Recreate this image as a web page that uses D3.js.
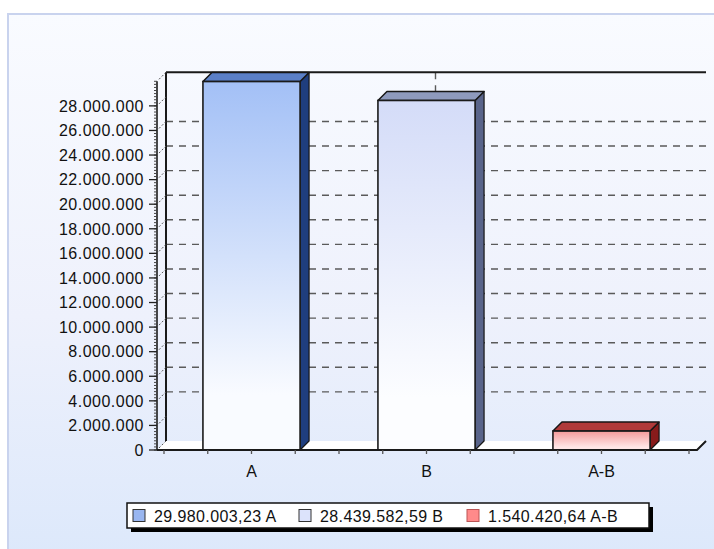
<!DOCTYPE html>
<html>
<head>
<meta charset="utf-8">
<script src="https://cdn.jsdelivr.net/npm/d3@7"></script>
<style>
  html, body { margin: 0; padding: 0; background: #ffffff; }
  svg { display: block; }
  text { font-family: "Liberation Sans", Arial, sans-serif; fill: #111; }
</style>
</head>
<body>
<div id="chart"></div>
<script>
// Categories, their values and the legend captions
const categories = ["A", "B", "A-B"];
const values = [29980003.23, 28439582.59, 1540420.64];
const legendLabels = ["29.980.003,23 A", "28.439.582,59 B", "1.540.420,64 A-B"];

// Value axis ticks (labelled) and the subset that gets a dashed gridline
const yTicks = [0, 2e6, 4e6, 6e6, 8e6, 10e6, 12e6, 14e6, 16e6, 18e6, 20e6, 22e6, 24e6, 26e6, 28e6];
const gridValues = [4e6, 6e6, 8e6, 10e6, 12e6, 14e6, 16e6, 18e6, 20e6, 22e6, 24e6, 26e6];
const yMax = 30e6;

// Face colours per bar: front gradient top, front gradient bottom, top face, side face, legend swatch
const frontTop = ["#a3c0f6", "#d4dcf8", "#f49a9a"];
const frontBottom = ["#f9fbff", "#fcfdff", "#ffe6e6"];
const topColor = ["#5a7fc7", "#8e9abd", "#b03a3a"];
const sideColor = ["#1f3e7e", "#59648a", "#881b1b"];
const swatchColor = ["#99b6f0", "#dce3fb", "#ff8a8a"];

const W = 714, H = 549;
const depth = 9;            // 3D offset of the back wall (right and up)
const baseY = 450;          // front baseline
const axisX = 157;          // front value axis

const svg = d3.select("#chart").append("svg")
  .attr("width", W).attr("height", H);

const defs = svg.append("defs");
const bg = defs.append("linearGradient").attr("id", "bg")
  .attr("x1", 0).attr("y1", 0).attr("x2", 0).attr("y2", 1);
bg.append("stop").attr("offset", "0%").attr("stop-color", "#f9fbff");
bg.append("stop").attr("offset", "55%").attr("stop-color", "#eef1fc");
bg.append("stop").attr("offset", "100%").attr("stop-color", "#dce8fb");

categories.forEach((c, i) => {
  const g = defs.append("linearGradient").attr("id", "front" + i)
    .attr("x1", 0).attr("y1", 0).attr("x2", 0).attr("y2", 1);
  g.append("stop").attr("offset", "0%").attr("stop-color", frontTop[i]);
  g.append("stop").attr("offset", "85%").attr("stop-color", frontBottom[i]);
  g.append("stop").attr("offset", "100%").attr("stop-color", frontBottom[i]);
});

// Page background and frame
svg.append("rect").attr("width", W).attr("height", H).attr("fill", "#ffffff");
svg.append("rect")
  .attr("x", 8).attr("y", 14).attr("width", W).attr("height", H)
  .attr("fill", "url(#bg)").attr("stroke", "#c9d3ee").attr("stroke-width", 2);

// Scales
const x = d3.scaleBand().domain(categories).range([164, 689])
  .paddingInner(0.445).paddingOuter(0.2225);
const y = d3.scaleLinear().domain([0, yMax]).range([baseY, 81.3]);

const [xr0, xr1] = x.range();
const frontRight = 697;
const wallTop = y(yMax) - depth;

// Floor
svg.append("polygon")
  .attr("points", [[axisX, baseY], [frontRight, baseY], [frontRight + depth, baseY - depth], [axisX + depth, baseY - depth]].join(" "))
  .attr("fill", "#ffffff");

// Dashed gridlines on the back wall
svg.append("g").selectAll("line").data(gridValues).join("line")
  .attr("x1", axisX + depth).attr("x2", frontRight + depth)
  .attr("y1", d => y(d) - depth).attr("y2", d => y(d) - depth)
  .attr("stroke", "#5a5a5a").attr("stroke-width", 1.4)
  .attr("stroke-dasharray", "7,6");

// Vertical dashed gridline through the middle of the category axis
const midX = (xr0 + xr1) / 2 + depth;
svg.append("line")
  .attr("x1", midX).attr("x2", midX)
  .attr("y1", wallTop).attr("y2", baseY - depth)
  .attr("stroke", "#5a5a5a").attr("stroke-width", 1.4)
  .attr("stroke-dasharray", "7,6");

// Back wall edges: left and top
svg.append("line")
  .attr("x1", axisX + depth).attr("x2", axisX + depth)
  .attr("y1", wallTop).attr("y2", baseY - depth)
  .attr("stroke", "#1a1a1a").attr("stroke-width", 2);
svg.append("line")
  .attr("x1", axisX + depth).attr("x2", frontRight + depth)
  .attr("y1", wallTop).attr("y2", wallTop)
  .attr("stroke", "#1a1a1a").attr("stroke-width", 2);

// Bars as 3D boxes
const bars = svg.append("g").selectAll("g").data(values).join("g");
bars.each(function (v, i) {
  const g = d3.select(this);
  const x0 = x(categories[i]);
  const x1 = x0 + x.bandwidth();
  const yt = y(v);
  // side face
  g.append("polygon")
    .attr("points", [[x1, yt], [x1 + depth, yt - depth], [x1 + depth, baseY - depth], [x1, baseY]].join(" "))
    .attr("fill", sideColor[i]).attr("stroke", "#161616").attr("stroke-width", 1.2)
    .attr("stroke-linejoin", "round");
  // top face
  g.append("polygon")
    .attr("points", [[x0, yt], [x0 + depth, yt - depth], [x1 + depth, yt - depth], [x1, yt]].join(" "))
    .attr("fill", topColor[i]).attr("stroke", "#161616").attr("stroke-width", 1.5)
    .attr("stroke-linejoin", "round");
  // front face
  g.append("rect")
    .attr("x", x0).attr("y", yt)
    .attr("width", x1 - x0).attr("height", baseY - yt)
    .attr("fill", "url(#front" + i + ")")
    .attr("stroke", "#1a1a1a").attr("stroke-width", 1.6);
});

// Floor front edge and right edge
svg.append("polyline")
  .attr("points", [[axisX, baseY], [frontRight, baseY], [frontRight + depth, baseY - depth]].join(" "))
  .attr("fill", "none").attr("stroke", "#1a1a1a").attr("stroke-width", 2);

// Category axis ticks at quarter-band steps
const step = x.step();
const xTickPos = d3.range(0, 13).map(k => xr0 + k * step / 4);
svg.append("g").selectAll("line").data(xTickPos).join("line")
  .attr("x1", d => d).attr("x2", d => d)
  .attr("y1", baseY).attr("y2", baseY + 4)
  .attr("stroke", "#555").attr("stroke-width", 1.3);

// Category labels
svg.append("g").selectAll("text").data(categories).join("text")
  .attr("x", d => x(d) + x.bandwidth() / 2)
  .attr("y", 477)
  .attr("text-anchor", "middle")
  .attr("font-size", 16)
  .text(d => d);

// Value axis: line, minor ticks, major ticks, labels
const yAxisG = svg.append("g");
yAxisG.append("line")
  .attr("x1", axisX).attr("x2", axisX)
  .attr("y1", y(yMax)).attr("y2", baseY)
  .attr("stroke", "#1a1a1a").attr("stroke-width", 1.6);
yAxisG.selectAll("line.minor").data(d3.range(0, yMax + 1, 250000)).join("line")
  .attr("class", "minor")
  .attr("x1", axisX - 3).attr("x2", axisX)
  .attr("y1", d => y(d)).attr("y2", d => y(d))
  .attr("stroke", "#444").attr("stroke-width", 1);
yAxisG.selectAll("line.major").data(yTicks).join("line")
  .attr("class", "major")
  .attr("x1", axisX - 8).attr("x2", axisX)
  .attr("y1", d => y(d)).attr("y2", d => y(d))
  .attr("stroke", "#222").attr("stroke-width", 1.3);
// short diagonal marks running back to the wall
yAxisG.selectAll("line.diag").data(yTicks.concat([yMax])).join("line")
  .attr("class", "diag")
  .attr("x1", axisX + 2).attr("x2", axisX + depth)
  .attr("y1", d => y(d) - 2).attr("y2", d => y(d) - depth)
  .attr("stroke", "#555").attr("stroke-width", 1)
  .attr("stroke-dasharray", "2,2");

const fmt = v => d3.format(",")(v).replace(/,/g, ".");
yAxisG.selectAll("text").data(yTicks).join("text")
  .attr("x", 144).attr("y", d => y(d))
  .attr("dy", "0.36em")
  .attr("text-anchor", "end")
  .attr("font-size", 16)
  .attr("letter-spacing", 0.5)
  .text(fmt);

// Legend box with drop shadow
const lg = svg.append("g");
const lx = 127, ly = 503, lw = 522, lh = 25;
lg.append("rect").attr("x", lx + 4).attr("y", ly + 4).attr("width", lw).attr("height", lh).attr("fill", "#000");
lg.append("rect").attr("x", lx).attr("y", ly).attr("width", lw).attr("height", lh)
  .attr("fill", "#ffffff").attr("stroke", "#111").attr("stroke-width", 1.5);

const itemX = [133, 299, 467];
const items = lg.selectAll("g.item").data(legendLabels).join("g").attr("class", "item")
  .attr("transform", (d, i) => `translate(${itemX[i]},${ly})`);
items.append("rect")
  .attr("x", 0).attr("y", 6.5).attr("width", 12).attr("height", 12)
  .attr("fill", (d, i) => swatchColor[i])
  .attr("stroke", (d, i) => i === 2 ? "#b55" : "#333").attr("stroke-width", 1);
items.append("text")
  .attr("x", 21).attr("y", 18.5)
  .attr("font-size", 16)
  .attr("letter-spacing", 0.4)
  .text(d => d);
</script>
</body>
</html>
